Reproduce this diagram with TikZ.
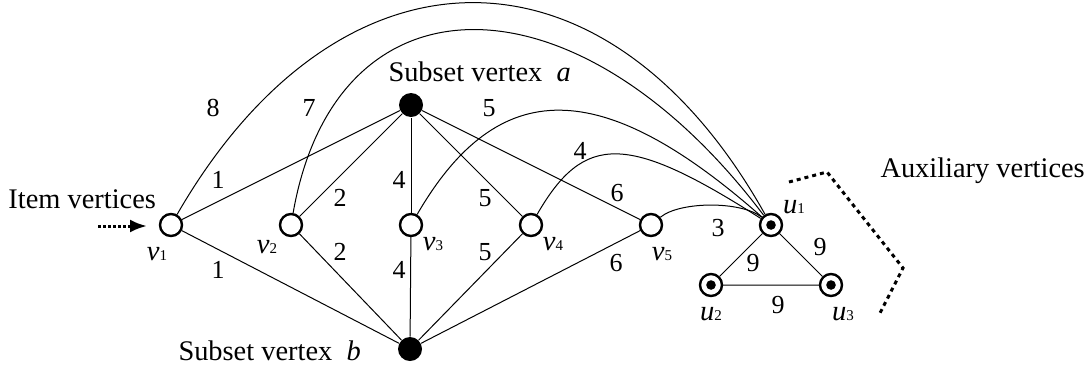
\documentclass[tikz,border=0pt]{standalone}
\usepackage{fontspec}
\setmainfont{Liberation Serif}
\usetikzlibrary{arrows.meta}
\newcommand{\vname}[2]{\textit{#1}{\fontsize{7.5pt}{8pt}\selectfont #2}}
\tikzset{
  itemvtx/.style={circle,draw,line width=1.2pt,fill=white,minimum size=11pt,inner sep=0pt},
  subsetvtx/.style={circle,fill=black,minimum size=12pt,inner sep=0pt},
  auxvtx/.style={itemvtx},
  wt/.style={font=\fontsize{13pt}{15pt}\selectfont,inner sep=0pt},
  tag/.style={font=\fontsize{14.2pt}{17pt}\selectfont,inner sep=0pt},
  vlabel/.style={font=\fontsize{14.3pt}{17pt}\selectfont,inner sep=0pt},
  dots/.style={line width=1.5pt,dash pattern=on 2pt off 2pt}
}
\begin{document}
\begin{tikzpicture}[x=0.5pt,y=-0.5pt,line width=0.5pt]
\useasboundingbox (0,0) rectangle (1091,365);
% vertices
\node[itemvtx] (v1) at (171,225) {};
\node[itemvtx] (v2) at (291,225) {};
\node[itemvtx] (v3) at (411,225) {};
\node[itemvtx] (v4) at (531,225) {};
\node[itemvtx] (v5) at (651,225) {};
\node[subsetvtx] (a) at (411,105) {};
\node[subsetvtx] (b) at (410,349) {};
\node[auxvtx] (u1) at (771,225) {};
\node[auxvtx] (u2) at (711,285) {};
\node[auxvtx] (u3) at (831,285) {};
\foreach \u in {u1,u2,u3}
  \fill (\u.center) circle (2.4pt);
% vertex names
\node[vlabel] (n1) at (157,254) {\vname{v}{1}};
\node[vlabel] (n2) at (267,247) {\vname{v}{2}};
\node[vlabel] (n3) at (433,244) {\vname{v}{3}};
\node[vlabel] (n4) at (553,244) {\vname{v}{4}};
\node[vlabel] (n5) at (662,254) {\vname{v}{5}};
\node[vlabel] (m1) at (794,207) {\vname{u}{1}};
\node[vlabel] (m2) at (711,314) {\vname{u}{2}};
\node[vlabel] (m3) at (843,314) {\vname{u}{3}};
% captions
\node[tag,anchor=base west] (itemtxt) at (8,208) {Item vertices};
\node[tag,anchor=base west] (auxtxt) at (880,177) {Auxiliary vertices};
\node[tag,anchor=base west] (atxt) at (388,81) {Subset vertex~~\textit{a}};
\node[tag,anchor=base west] (btxt) at (178,360) {Subset vertex~~\textit{b}};
% edges to subset vertices
\foreach \v in {v1,v2,v3,v4,v5}{
  \draw (\v) -- (a);
  \draw (\v) -- (b);
}
% edges to u1
\draw (v1) .. controls (340,-68) and (607,-68) .. (u1);
\draw (v2) .. controls (336,-32) and (577,-32) .. (u1);
\draw (v3) .. controls (498,75) and (601,75) .. (u1);
\draw (v4) .. controls (584,133) and (627,133) .. (u1);
\draw (v5) .. controls (680,201) and (742,201) .. (u1);
\draw (u1) -- (u2) -- (u3) -- (u1);
% weights
\node[wt] (w8) at (213,108) {8};
\node[wt] (w7) at (309,108) {7};
\node[wt] (w1a) at (218,180) {1};
\node[wt] (w1b) at (218,270) {1};
\node[wt] (w2a) at (340,198) {2};
\node[wt] (w2b) at (340,252) {2};
\node[wt] (w4a) at (399,180) {4};
\node[wt] (w4b) at (399,270) {4};
\node[wt] (w5a) at (485,198) {5};
\node[wt] (w5b) at (485,252) {5};
\node[wt] (w5c) at (489,108) {5};
\node[wt] (w4c) at (580,151) {4};
\node[wt] (w6a) at (617,193) {6};
\node[wt] (w6b) at (616,263) {6};
\node[wt] (w3) at (718,228) {3};
\node[wt] (w9a) at (753,263) {9};
\node[wt] (w9b) at (820,247) {9};
\node[wt] (w9c) at (778,305) {9};
% pointer and bracket
\coordinate (arrtail) at (98,226);
\coordinate (arrtip) at (147,226);
\draw[line width=1.5pt,dash pattern=on 1.5pt off 1pt,-{Latex[length=8.5pt,width=6.5pt]}] (arrtail) -- (arrtip);
\coordinate (br1) at (789,182);
\coordinate (br2) at (827,172);
\coordinate (br3) at (903,268);
\coordinate (br4) at (879,315);
\draw[dots] (br1) -- (br2) -- (br3) -- (br4);
\end{tikzpicture}
\end{document}
